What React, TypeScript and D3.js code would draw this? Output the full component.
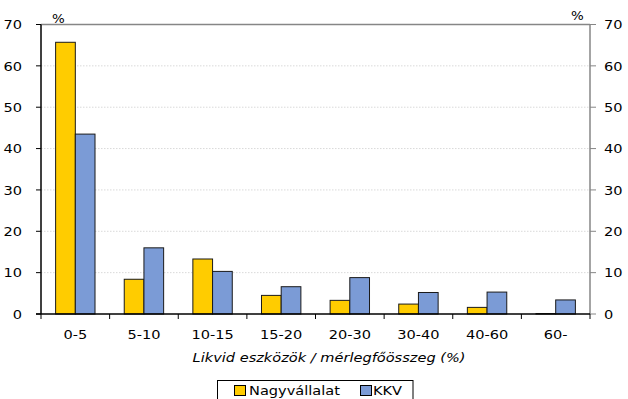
import React from "react";
import * as d3 from "d3";

const categories = ["0-5", "5-10", "10-15", "15-20", "20-30", "30-40", "40-60", "60-"];
const nagyvallalat = [65.7, 8.4, 13.3, 4.5, 3.3, 2.4, 1.6, 0.1];
const kkv = [43.5, 16.0, 10.3, 6.6, 8.8, 5.2, 5.3, 3.4];
const yTicks = [0, 10, 20, 30, 40, 50, 60, 70];
const seriesNames = ["Nagyvállalat", "KKV"];
const colors = ["#FFCC00", "#7B9BD6"];

const W = 628, H = 399;
const left = 41, right = 590, top = 24.5, bottom = 314;
const font = "DejaVu Sans, Verdana, sans-serif";
const SX = 1.12;

function Txt(props: { x: number; y: number; anchor?: string; size?: number; italic?: boolean; dy?: string; children: React.ReactNode }) {
  const { x, y, anchor = "start", size = 13, italic = false, dy, children } = props;
  return (
    <text transform={`translate(${x},${y}) scale(${SX},1)`} textAnchor={anchor} dy={dy}
      fontFamily={font} fontSize={size} fontStyle={italic ? "italic" : "normal"} fill="#000">{children}</text>
  );
}

export default function App() {
  const x = d3.scaleBand<string>().domain(categories).range([left, right]).paddingInner(0).paddingOuter(0);
  const y = d3.scaleLinear().domain([0, 70]).range([bottom, top]);
  const bw = x.bandwidth();
  const barW = bw * 0.287;
  const series = [nagyvallalat, kkv];

  return (
    <svg width={W} height={H} style={{ position: "absolute", left: 0, top: 0, background: "#fff" }}>
      {yTicks.filter(t => t > 0 && t < 70).map(t => (
        <line key={t} x1={left} x2={right} y1={y(t)} y2={y(t)} stroke="#d9d9d9" strokeWidth={1} strokeDasharray="1.5,1.5" />
      ))}
      <line x1={left} x2={right} y1={y(70)} y2={y(70)} stroke="#868686" strokeWidth={1.5} />
      {categories.map((c, i) => {
        const cx = (x(c) as number) + bw / 2;
        return series.map((s, si) => (
          <rect key={c + si} x={cx - barW + si * barW} y={y(s[i])} width={barW} height={bottom - y(s[i])}
            fill={colors[si]} stroke="#1a1a1a" strokeWidth={1} />
        ));
      })}
      <line x1={left} x2={left} y1={top} y2={bottom} stroke="#000" strokeWidth={1.5} />
      {yTicks.map(t => (
        <g key={"l" + t}>
          <line x1={left - 5} x2={left} y1={y(t)} y2={y(t)} stroke="#000" strokeWidth={1} />
          <Txt x={22} y={y(t)} dy="0.36em" anchor="end">{t}</Txt>
        </g>
      ))}
      <line x1={right} x2={right} y1={top} y2={bottom} stroke="#868686" strokeWidth={1.5} />
      {yTicks.map(t => (
        <g key={"r" + t}>
          <line x1={right} x2={right + 6} y1={y(t)} y2={y(t)} stroke="#868686" strokeWidth={1} />
          <Txt x={604} y={y(t)} dy="0.36em">{t}</Txt>
        </g>
      ))}
      <Txt x={52} y={23} size={12}>%</Txt>
      <Txt x={571} y={20} size={12}>%</Txt>
      <line x1={left - 5} x2={right} y1={bottom} y2={bottom} stroke="#000" strokeWidth={1.5} />
      {categories.map(c => (
        <line key={"t" + c} x1={x(c) as number} x2={x(c) as number} y1={bottom} y2={bottom + 5} stroke="#000" strokeWidth={1} />
      ))}
      <line x1={right} x2={right} y1={bottom} y2={bottom + 5} stroke="#000" strokeWidth={1} />
      {categories.map(c => (
        <Txt key={"xl" + c} x={(x(c) as number) + bw / 2} y={339} anchor="middle">{c}</Txt>
      ))}
      <Txt x={329} y={362} anchor="middle" italic>Likvid eszközök / mérlegfőösszeg (%)</Txt>
      <rect x={217.5} y={380.5} width={195.5} height={30} fill="#fff" stroke="#000" strokeWidth={1} />
      <rect x={234.5} y={385.5} width={11} height={10} fill={colors[0]} stroke="#000" strokeWidth={1} />
      <Txt x={249} y={395}>{seriesNames[0]}</Txt>
      <rect x={360.5} y={385.5} width={11} height={10} fill={colors[1]} stroke="#000" strokeWidth={1} />
      <Txt x={373} y={395}>{seriesNames[1]}</Txt>
    </svg>
  );
}
